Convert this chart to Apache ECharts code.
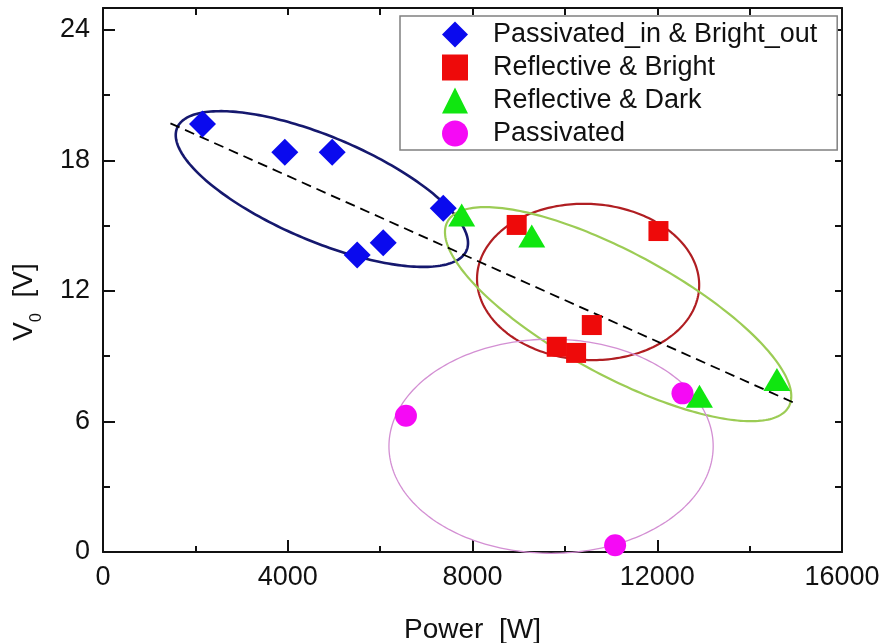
<!DOCTYPE html>
<html><head><meta charset="utf-8">
<script src="https://cdn.jsdelivr.net/npm/echarts@6/dist/echarts.min.js"></script>
<style>html,body{margin:0;padding:0;background:#fff}#c{width:884px;height:643px}</style>
</head><body><div id="c"></div>
<script>
const seriesNames = ['Passivated_in & Bright_out', 'Reflective & Bright', 'Reflective & Dark', 'Passivated'];
const passInBrightOutX = [2154, 3937, 4962, 7367, 5504, 6067];
const passInBrightOutY = [19.67, 18.37, 18.37, 15.80, 13.65, 14.21];
const reflBrightX = [8957, 12026, 10583, 9824, 10243];
const reflBrightY = [15.03, 14.75, 10.43, 9.43, 9.15];
const reflDarkX = [7766, 9283, 14591, 12914];
const reflDarkY = [15.49, 14.52, 7.93, 7.16];
const passivatedX = [6559, 12546, 11088];
const passivatedY = [6.26, 7.29, 0.31];
const trendX = [1460, 15020];
const trendY = [19.70, 6.80];
// ellipses: centre (x, y), semi-diameter U, conjugate semi-diameter V (data units)
const ellipseCx = [4739, 10503, 11153, 9701];
const ellipseCy = [16.68, 12.41, 10.93, 4.86];
const ellipseUx = [3164, 2405, 3749, 3510];
const ellipseUy = [-2.48, -0.14, -3.77, 0];
const ellipseVx = [0, 0, 0, 0];
const ellipseVy = [2.58, 3.59, 3.16, 4.92];
const xTicks = [0, 4000, 8000, 12000, 16000];
const yTicks = [0, 6, 12, 18, 24];

const FONT = "'Liberation Sans', Arial, sans-serif";
const INK = '#111';
const ellipseColors = ['#15186e', '#b01e22', '#9ccc55', '#d38fd3'];
const ellipseWidths = [2.6, 2.2, 2.2, 1.3];

const zip = (a, b) => a.map((v, i) => [v, b[i]]);
const ellipseData = ellipseCx.map((v, i) => [v, ellipseCy[i], ellipseUx[i], ellipseUy[i], ellipseVx[i], ellipseVy[i]]);

const chart = echarts.init(document.getElementById('c'), null, {renderer: 'canvas'});

const baseAxis = {
  type: 'value', splitLine: {show: false}, axisPointer: {show: false}
};
const line2 = {show: true, onZero: false, lineStyle: {color: INK, width: 2}};
const noLine = {show: false, onZero: false};
const option = {
  animation: false,
  backgroundColor: '#fff',
  grid: {left: 103, right: 42, top: 8, bottom: 91, containLabel: false, outerBoundsMode: 'none'},
  legend: {
    orient: 'vertical', left: 400, top: 16,
    itemWidth: 26, itemHeight: 26, itemGap: 6,
    padding: [5, 20, 3, 42],
    borderColor: '#808080', borderWidth: 1.5, backgroundColor: '#fff',
    textStyle: {fontSize: 27, color: INK, fontFamily: FONT, lineHeight: 27, padding: [0, 0, 0, 20]},
    data: seriesNames, selectedMode: false
  },
  xAxis: [
    Object.assign({}, baseAxis, {
      position: 'bottom', min: 0, max: 16000, interval: 4000,
      axisLine: line2,
      axisTick: {show: true, inside: true, length: 12, lineStyle: {color: INK, width: 2}},
      axisLabel: {show: true, margin: 12, fontSize: 27, color: INK, fontFamily: FONT,
        formatter: v => xTicks.includes(v) ? String(v) : ''},
      name: 'Power  [W]', nameLocation: 'middle', nameGap: 64,
      nameTextStyle: {fontSize: 28, color: INK, fontFamily: FONT}
    }),
    Object.assign({}, baseAxis, {
      position: 'bottom', min: 0, max: 16000, interval: 2000,
      axisLine: noLine,
      axisTick: {show: true, inside: true, length: 6, lineStyle: {color: INK, width: 2}},
      axisLabel: {show: false}
    }),
    Object.assign({}, baseAxis, {
      position: 'top', min: 0, max: 16000, interval: 2000,
      axisLine: line2,
      axisTick: {show: true, inside: true, length: 7, lineStyle: {color: INK, width: 2}},
      axisLabel: {show: false}
    })
  ],
  yAxis: [
    Object.assign({}, baseAxis, {
      position: 'left', min: 0, max: 25, interval: 6,
      axisLine: line2,
      axisTick: {show: true, inside: true, length: 12, lineStyle: {color: INK, width: 2}},
      axisLabel: {show: true, margin: 13, fontSize: 27, color: INK, fontFamily: FONT,
        showMaxLabel: false,
        formatter: v => yTicks.includes(v) ? String(v) : ''},
      name: '{v|V}{s|0}{v|  [V]}', nameLocation: 'middle', nameGap: 58,
      nameTextStyle: {
        fontSize: 28, color: INK, fontFamily: FONT, padding: [0, 44, 0, 0],
        rich: {
          v: {fontSize: 28, color: INK, fontFamily: FONT},
          s: {fontSize: 16, color: INK, fontFamily: FONT, padding: [26, 0, 0, 0]}
        }
      }
    }),
    Object.assign({}, baseAxis, {
      position: 'left', min: 0, max: 25, interval: 3,
      axisLine: noLine,
      axisTick: {show: true, inside: true, length: 7, lineStyle: {color: INK, width: 2}},
      axisLabel: {show: false}
    }),
    Object.assign({}, baseAxis, {
      position: 'right', min: 0, max: 25, interval: 3,
      axisLine: line2,
      axisTick: {show: true, inside: true, length: 7, lineStyle: {color: INK, width: 2}},
      axisLabel: {show: false}
    })
  ],
  series: [
    {
      type: 'custom', name: 'ellipses', xAxisIndex: 0, yAxisIndex: 0, z: 1, silent: true,
      data: ellipseData,
      encode: {x: 0, y: 1},
      renderItem: function (params, api) {
        const cx = api.value(0), cy = api.value(1), ux = api.value(2), uy = api.value(3), vx = api.value(4), vy = api.value(5);
        const pts = [];
        const N = 240;
        for (let k = 0; k <= N; k++) {
          const t = 2 * Math.PI * k / N;
          pts.push(api.coord([cx + ux * Math.cos(t) + vx * Math.sin(t), cy + uy * Math.cos(t) + vy * Math.sin(t)]));
        }
        return {
          type: 'polyline', shape: {points: pts},
          style: {stroke: ellipseColors[params.dataIndex], lineWidth: ellipseWidths[params.dataIndex], fill: null}
        };
      }
    },
    {
      type: 'line', name: 'trend', xAxisIndex: 0, yAxisIndex: 0, z: 2, silent: true,
      data: zip(trendX, trendY), symbol: 'none',
      lineStyle: {color: '#000', width: 1.8, type: [10, 6]}
    },
    {
      type: 'scatter', name: seriesNames[0], xAxisIndex: 0, yAxisIndex: 0, z: 3,
      data: zip(passInBrightOutX, passInBrightOutY), symbol: 'diamond', symbolSize: 27,
      itemStyle: {color: '#0a0aee', opacity: 1}
    },
    {
      type: 'scatter', name: seriesNames[1], xAxisIndex: 0, yAxisIndex: 0, z: 3,
      data: zip(reflBrightX, reflBrightY), symbol: 'rect', symbolSize: 20,
      itemStyle: {color: '#ee0a0a', opacity: 1}
    },
    {
      type: 'scatter', name: seriesNames[2], xAxisIndex: 0, yAxisIndex: 0, z: 3,
      data: zip(reflDarkX, reflDarkY), symbol: 'triangle', symbolSize: [27, 23],
      itemStyle: {color: '#10e610', opacity: 1}
    },
    {
      type: 'scatter', name: seriesNames[3], xAxisIndex: 0, yAxisIndex: 0, z: 3,
      data: zip(passivatedX, passivatedY), symbol: 'circle', symbolSize: 22,
      itemStyle: {color: '#f50af5', opacity: 1}
    }
  ]
};
chart.setOption(option);
</script>
</body></html>
